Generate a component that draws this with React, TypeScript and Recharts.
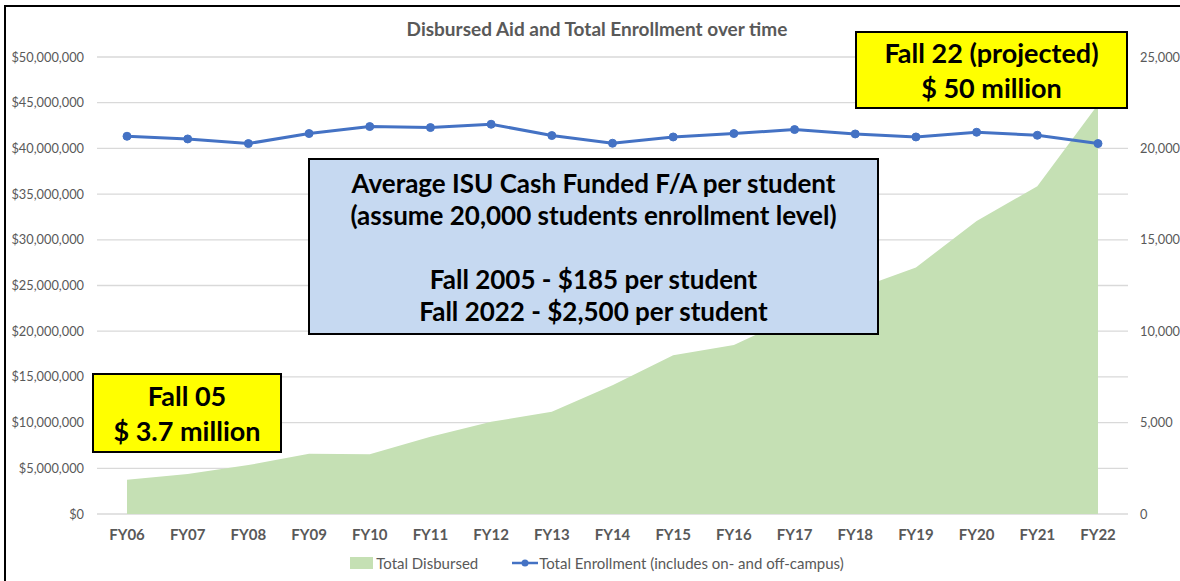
import { Area, CartesianGrid, ComposedChart, Line, XAxis, YAxis } from "recharts";

const years = ["FY06", "FY07", "FY08", "FY09", "FY10", "FY11", "FY12", "FY13", "FY14", "FY15", "FY16", "FY17", "FY18", "FY19", "FY20", "FY21", "FY22"];
const disbursed = [3750000, 4370000, 5350000, 6580000, 6530000, 8450000, 10090000, 11190000, 14100000, 17380000, 18480000, 21600000, 24560000, 26970000, 32070000, 35860000, 44800000];
const enrollment = [20664, 20517, 20265, 20812, 21195, 21140, 21321, 20703, 20282, 20626, 20812, 21031, 20790, 20626, 20883, 20719, 20265];
const dollarTicks = [0, 5000000, 10000000, 15000000, 20000000, 25000000, 30000000, 35000000, 40000000, 45000000, 50000000];
const enrollTicks = [0, 5000, 10000, 15000, 20000, 25000];

const font = "Lato, 'Noto Sans', sans-serif";
const green = "#c5e0b4";
const blue = "#4472c4";
const grey = "#595959";

const rows = years.map((year, i) => ({ year, disbursed: disbursed[i], enrollment: enrollment[i] }));

const box = (left: number, top: number, width: number, height: number, bg: string): React.CSSProperties => ({
  position: "absolute", left, top, width, height, background: bg, border: "2px solid #000", boxSizing: "border-box",
  display: "flex", flexDirection: "column", justifyContent: "center", alignItems: "center", color: "#000", fontWeight: 700, textAlign: "center",
  whiteSpace: "nowrap",
});

export default function App() {
  return (
    <div style={{ position: "absolute", left: 0, top: 0, width: 1180, height: 581, background: "#fff", fontFamily: font, overflow: "hidden" }}>
      <div style={{ position: "absolute", left: 4, top: 5, right: -10, bottom: -10, borderLeft: "2px solid #000", borderTop: "2px solid #000" }} />
      <div style={{ position: "absolute", left: 0, width: 1194, top: 17, textAlign: "center", fontSize: 19, fontWeight: 700, color: grey }}>
        Disbursed Aid and Total Enrollment over time
      </div>
      <ComposedChart width={1180} height={581} data={rows} margin={{ top: 57, right: 0, bottom: 37, left: 0 }}>
        <CartesianGrid yAxisId="left" vertical={false} stroke="#d9d9d9" strokeWidth={1.3} />
        <XAxis dataKey="year" tickLine={false} axisLine={false} height={30} tickMargin={9} interval={0} padding={{ left: 30, right: 30 }}
          tick={{ fontSize: 15, fontWeight: 700, fill: grey, fontFamily: font }} />
        <YAxis yAxisId="left" width={97} domain={[0, 50000000]} ticks={dollarTicks} tickLine={false} axisLine={false} tickMargin={7}
          tickFormatter={(v: number) => `$${v.toLocaleString("en-US")}`} tick={{ fontSize: 12.8, fill: grey, fontFamily: font }} />
        <YAxis yAxisId="right" orientation="right" width={52} domain={[0, 25000]} ticks={enrollTicks} tickLine={false} axisLine={false} tickMargin={6}
          tickFormatter={(v: number) => v.toLocaleString("en-US")} tick={{ fontSize: 12.8, fill: grey, fontFamily: font, textAnchor: "start" }} />
        <Area yAxisId="left" dataKey="disbursed" type="linear" stroke="none" fill={green} fillOpacity={1} isAnimationActive={false} />
        <Line yAxisId="right" dataKey="enrollment" type="linear" stroke={blue} strokeWidth={3} dot={{ r: 4, fill: blue, stroke: blue, strokeWidth: 1 }} isAnimationActive={false} />
      </ComposedChart>
      <div style={{ position: "absolute", left: 0, width: 1194, top: 554, display: "flex", justifyContent: "center", alignItems: "center", fontSize: 15, color: grey }}>
        <span style={{ display: "inline-block", width: 23, height: 12, background: green, marginRight: 3 }} />
        <span style={{ marginRight: 34 }}>Total Disbursed</span>
        <svg width={26} height={12} style={{ marginRight: 1 }}>
          <line x1={0} y1={6} x2={26} y2={6} stroke={blue} strokeWidth={2.5} />
          <circle cx={13} cy={6} r={3.5} fill={blue} />
        </svg>
        <span>Total Enrollment (includes on- and off-campus)</span>
      </div>
      <div style={{ ...box(92, 373, 190, 80, "#ffff00"), fontSize: 27, lineHeight: "35px" }}>
        <div>Fall 05</div>
        <div>$ 3.7 million</div>
      </div>
      <div style={{ ...box(855, 31, 273, 78, "#ffff00"), fontSize: 27, lineHeight: "35px" }}>
        <div>Fall 22 (projected)</div>
        <div>$ 50 million</div>
      </div>
      <div style={{ ...box(308, 158, 571, 177, "#c6d9f1"), fontSize: 26, lineHeight: "32px" }}>
        <div>Average ISU Cash Funded F/A per student</div>
        <div>(assume 20,000 students enrollment level)</div>
        <div>&nbsp;</div>
        <div>Fall 2005 - $185 per student</div>
        <div>Fall 2022 - $2,500 per student</div>
      </div>
    </div>
  );
}
